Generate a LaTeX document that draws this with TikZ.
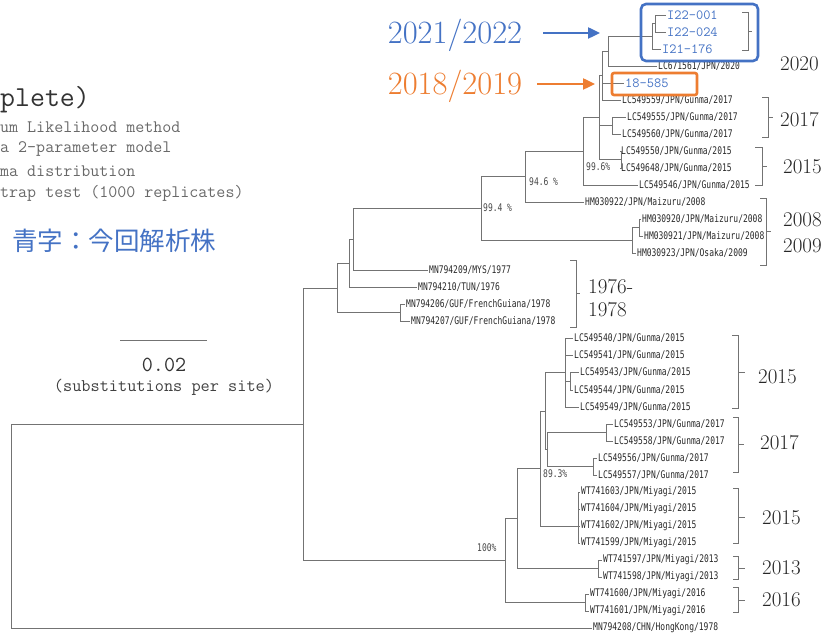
\documentclass[tikz,border=0pt]{standalone}
\usepackage{fontspec}
\usepackage{xcolor}
\usepackage{tikz}
\usetikzlibrary{arrows.meta}
\newfontfamily\leaffont{DejaVu Sans Mono}[FakeStretch=0.76]
\newfontfamily\cjkfont{Noto Sans CJK JP}
\definecolor{treeline}{RGB}{115,115,115}
\definecolor{leafink}{RGB}{40,40,40}
\definecolor{newblue}{RGB}{68,114,196}
\definecolor{oldorange}{RGB}{237,125,49}
\definecolor{notegray}{RGB}{105,105,105}
\tikzset{
  br/.style     ={draw=treeline, line width=0.9pt},
  brk/.style    ={draw=treeline, line width=0.9pt},
  leaf/.style   ={font=\leaffont\fontsize{10.5}{10.5}\selectfont, text=leafink, inner sep=1pt, anchor=west},
  newleaf/.style={font=\ttfamily\fontsize{14}{14}\selectfont, text=newblue, inner sep=1pt, anchor=west},
  boot/.style   ={font=\leaffont\fontsize{10.5}{10.5}\selectfont, text=leafink!85, inner sep=0pt, anchor=west},
  yr/.style     ={font=\fontsize{21}{21}\selectfont, text=black!85, inner sep=0pt, anchor=west},
  note/.style   ={font=\ttfamily\fontsize{17.5}{17.5}\selectfont, text=notegray, inner sep=0pt, anchor=west},
  tag/.style    ={font=\fontsize{32.5}{32.5}\selectfont, inner sep=0pt},
  ptr/.style    ={line width=2.4pt, -{Triangle[length=12pt,width=11pt]}},
}

\begin{document}
\begin{tikzpicture}[x=1pt,y=-1pt]
  \useasboundingbox (0,0) rectangle (830,639);
  % method notes, left
  \node[note,font=\ttfamily\fontsize{29}{29}\selectfont,text=black!80] (ttl) at (0,100) {plete)};
  \node[note] (m1) at (0,127) {um Likelihood method};
  \node[note] (m2) at (0,149) {a 2-parameter model};
  \node[note] (m3) at (0,171) {ma distribution};
  \node[note] (m4) at (0,193) {trap test (1000 replicates)};
  \node[font=\cjkfont\fontsize{25.5}{25.5}\selectfont,text=newblue,inner sep=0pt,anchor=west] (key) at (12,241) {青字：今回解析株};
  % scale bar
  \coordinate (sbl) at (120,340);
  \coordinate (sbr) at (207,340);
  \draw[br] (sbl) -- (sbr);
  \node[font=\ttfamily\fontsize{21.5}{21.5}\selectfont,text=black!80,inner sep=0pt] (sbv) at (164,365) {0.02};
  \node[font=\ttfamily\fontsize{17.8}{17.8}\selectfont,text=black!75,inner sep=0pt] (sbu) at (164,387) {(substitutions per site)};

  % internal nodes
  \coordinate (root)  at (11,526);
  \coordinate (nA)    at (303,424);
  \coordinate (nP)    at (337,288);
  \coordinate (nQ)    at (349,263);
  \coordinate (nR)    at (353,239);
  \coordinate (nGUF)  at (400,312.5);
  \coordinate (n994)  at (481,208);
  \coordinate (n946)  at (525,176.5);
  \coordinate (n996)  at (583,151);
  \coordinate (nG5)   at (599,117.5);
  \coordinate (nG4)   at (602,75.5);
  \coordinate (nG3)   at (608,51);
  \coordinate (nG2)   at (652,36);
  \coordinate (nG1)   at (655,23.5);
  \coordinate (nG17)  at (612,125.5);
  \coordinate (nG15)  at (621,159.5);
  \coordinate (nHMx)  at (632,240);
  \coordinate (nHM)   at (639,227.5);
  \coordinate (nB)    at (505,560.5);
  \coordinate (nC)    at (517,518.5);
  \coordinate (nD)    at (540,468.5);
  \coordinate (nE)    at (545,411);
  \coordinate (nF)    at (547,449.5);
  \coordinate (nL15)  at (565,372.5);
  \coordinate (nL15s) at (570,381);
  \coordinate (nL17a) at (606,432.5);
  \coordinate (nL17b) at (593,466.5);
  \coordinate (nM15)  at (578,526);
  \coordinate (nM13)  at (598,568.5);
  \coordinate (nM16)  at (585,602.5);

  % leaves
  \node[newleaf] (l1)  at (666,15)  {I22-001};
  \node[newleaf] (l2)  at (666,32)  {I22-024};
  \node[newleaf] (l3)  at (661,49)  {I21-176};
  \node[leaf]    (l4)  at (657,66)  {LC671561/JPN/2020};
  \node[newleaf] (l5)  at (624,83)  {18-585};
  \node[leaf]    (l6)  at (621,100) {LC549559/JPN/Gunma/2017};
  \node[leaf]    (l7)  at (626,117) {LC549555/JPN/Gunma/2017};
  \node[leaf]    (l8)  at (621,134) {LC549560/JPN/Gunma/2017};
  \node[leaf]    (l9)  at (620,151) {LC549550/JPN/Gunma/2015};
  \node[leaf]    (l10) at (620,168) {LC549648/JPN/Gunma/2015};
  \node[leaf]    (l11) at (638,185) {LC549546/JPN/Gunma/2015};
  \node[leaf]    (l12) at (584,202) {HM030922/JPN/Maizuru/2008};
  \node[leaf]    (l13) at (641,219) {HM030920/JPN/Maizuru/2008};
  \node[leaf]    (l14) at (643,236) {HM030921/JPN/Maizuru/2008};
  \node[leaf]    (l15) at (636,253) {HM030923/JPN/Osaka/2009};
  \node[leaf]    (l16) at (428,270) {MN794209/MYS/1977};
  \node[leaf]    (l17) at (417,287) {MN794210/TUN/1976};
  \node[leaf]    (l18) at (405,304) {MN794206/GUF/FrenchGuiana/1978};
  \node[leaf]    (l19) at (410,321) {MN794207/GUF/FrenchGuiana/1978};
  \node[leaf]    (l20) at (573,338) {LC549540/JPN/Gunma/2015};
  \node[leaf]    (l21) at (573,355) {LC549541/JPN/Gunma/2015};
  \node[leaf]    (l22) at (579,372) {LC549543/JPN/Gunma/2015};
  \node[leaf]    (l23) at (573,390) {LC549544/JPN/Gunma/2015};
  \node[leaf]    (l24) at (579,407) {LC549549/JPN/Gunma/2015};
  \node[leaf]    (l25) at (613,424) {LC549553/JPN/Gunma/2017};
  \node[leaf]    (l26) at (613,441) {LC549558/JPN/Gunma/2017};
  \node[leaf]    (l27) at (597,458) {LC549556/JPN/Gunma/2017};
  \node[leaf]    (l28) at (597,475) {LC549557/JPN/Gunma/2017};
  \node[leaf]    (l29) at (580,492) {WT741603/JPN/Miyagi/2015};
  \node[leaf]    (l30) at (580,509) {WT741604/JPN/Miyagi/2015};
  \node[leaf]    (l31) at (580,526) {WT741602/JPN/Miyagi/2015};
  \node[leaf]    (l32) at (580,543) {WT741599/JPN/Miyagi/2015};
  \node[leaf]    (l33) at (602,560) {WT741597/JPN/Miyagi/2013};
  \node[leaf]    (l34) at (602,577) {WT741598/JPN/Miyagi/2013};
  \node[leaf]    (l35) at (589,594) {WT741600/JPN/Miyagi/2016};
  \node[leaf]    (l36) at (589,611) {WT741601/JPN/Miyagi/2016};
  \node[leaf]    (l37) at (592,628) {MN794208/CHN/HongKong/1978};

  % branches
  \draw[br] (root) |- (nA);   \draw[br] (root) |- (l37.west);
  \draw[br] (nA) |- (nP);     \draw[br] (nA) |- (nB);
  \draw[br] (nP) |- (nQ);     \draw[br] (nP) |- (nGUF);
  \draw[br] (nQ) |- (nR);     \draw[br] (nQ) |- (l17.west);
  \draw[br] (nR) |- (n994);   \draw[br] (nR) |- (l16.west);
  \draw[br] (nGUF) |- (l18.west); \draw[br] (nGUF) |- (l19.west);
  \draw[br] (n994) |- (n946); \draw[br] (n994) |- (nHMx);
  \draw[br] (n946) |- (n996); \draw[br] (n946) |- (l12.west);
  \draw[br] (n996) |- (nG5);  \draw[br] (n996) |- (l11.west);
  \draw[br] (nG5) |- (nG4);   \draw[br] (nG5) |- (nG17); \draw[br] (nG5) |- (nG15);
  \draw[br] (nG4) |- (nG3);   \draw[br] (nG4) |- (l5.west); \draw[br] (nG4) |- (l6.west);
  \draw[br] (nG3) |- (nG2);   \draw[br] (nG3) |- (l4.west);
  \draw[br] (nG2) |- (nG1);   \draw[br] (nG2) |- (l3.west);
  \draw[br] (nG1) |- (l1.west); \draw[br] (nG1) |- (l2.west);
  \draw[br] (nG17) |- (l7.west); \draw[br] (nG17) |- (l8.west);
  \draw[br] (nG15) |- (l9.west); \draw[br] (nG15) |- (l10.west);
  \draw[br] (nHMx) |- (nHM);  \draw[br] (nHMx) |- (l15.west);
  \draw[br] (nHM) |- (l13.west); \draw[br] (nHM) |- (l14.west);
  \draw[br] (nB) |- (nC);     \draw[br] (nB) |- (nM16);
  \draw[br] (nC) |- (nD);     \draw[br] (nC) |- (nM13);
  \draw[br] (nD) |- (nE);     \draw[br] (nD) |- (nM15);
  \draw[br] (nE) |- (nL15);   \draw[br] (nE) |- (nF);
  \draw[br] (nF) |- (nL17a);  \draw[br] (nF) |- (nL17b);
  \draw[br] (nL15) |- (l20.west); \draw[br] (nL15) |- (l21.west);
  \draw[br] (nL15) |- (nL15s);    \draw[br] (nL15) |- (l24.west);
  \draw[br] (nL15s) |- (l22.west); \draw[br] (nL15s) |- (l23.west);
  \draw[br] (nL17a) |- (l25.west); \draw[br] (nL17a) |- (l26.west);
  \draw[br] (nL17b) |- (l27.west); \draw[br] (nL17b) |- (l28.west);
  \draw[br] (nM15) |- (l29.west); \draw[br] (nM15) |- (l30.west);
  \draw[br] (nM15) |- (l31.west); \draw[br] (nM15) |- (l32.west);
  \draw[br] (nM13) |- (l33.west); \draw[br] (nM13) |- (l34.west);
  \draw[br] (nM16) |- (l35.west); \draw[br] (nM16) |- (l36.west);

  % bootstrap values
  \node[boot] (b996) at (586,167) {99.6\%};
  \node[boot] (b946) at (529,182) {94.6 \%};
  \node[boot] (b994) at (483,208) {99.4 \%};
  \node[boot] (b893) at (543,474) {89.3\%};
  \node[boot] (b100) at (477,548) {100\%};

  % year brackets
  \draw[brk] (742,12) -- (748,12) -- (748,50) -- (742,50) (748,31) -- (752,31);
  \draw[brk] (762,97) -- (768,97) -- (768,137) -- (762,137) (768,117) -- (773,117);
  \draw[brk] (755,147) -- (762,147) -- (762,185) -- (755,185) (762,166) -- (767,166);
  \draw[brk] (760,198) -- (766,198) -- (766,265) -- (760,265) (766,231) -- (771,231);
  \draw[brk] (570,260) -- (576,260) -- (576,327) -- (570,327) (576,293) -- (580,293);
  \draw[brk] (732,335) -- (738,335) -- (738,408) -- (732,408) (738,372) -- (745,372);
  \draw[brk] (733,417) -- (738,417) -- (738,472) -- (733,472) (738,444) -- (744,444);
  \draw[brk] (733,488) -- (738,488) -- (738,543) -- (733,543) (738,517) -- (745,517);
  \draw[brk] (733,556) -- (738,556) -- (738,579) -- (733,579) (738,568) -- (745,568);
  \draw[brk] (733,587) -- (738,587) -- (738,612) -- (733,612) (738,600) -- (745,600);
  \node[yr] (y2020) at (780,64)  {2020};
  \node[yr] (y17a)  at (780,120) {2017};
  \node[yr] (y15a)  at (783,167) {2015};
  \node[yr] (y08)   at (783,220) {2008};
  \node[yr] (y09)   at (783,246) {2009};
  \node[yr] (y76)   at (588,287) {1976-};
  \node[yr] (y78)   at (588,310) {1978};
  \node[yr] (y15b)  at (758,377) {2015};
  \node[yr] (y17b)  at (760,443) {2017};
  \node[yr] (y15c)  at (762,518) {2015};
  \node[yr] (y13)   at (762,568) {2013};
  \node[yr] (y16)   at (762,600) {2016};

  % highlight boxes and arrows
  \draw[newblue, line width=2.6pt, rounded corners=5pt] (641,4) rectangle (758,61);
  \draw[oldorange, line width=2.6pt, rounded corners=2pt] (612,73) rectangle (697,95);
  \node[tag,text=newblue]   (tagnew) at (455,35) {2021/2022};
  \node[tag,text=oldorange] (tagold) at (455,86) {2018/2019};
  \coordinate (newtail) at (543,33);
  \coordinate (newtip)  at (600,33);
  \coordinate (oldtail) at (537,84);
  \coordinate (oldtip)  at (595,84);
  \draw[ptr, draw=newblue, fill=newblue] (newtail) -- (newtip);
  \draw[ptr, draw=oldorange, fill=oldorange] (oldtail) -- (oldtip);
\end{tikzpicture}
\end{document}
